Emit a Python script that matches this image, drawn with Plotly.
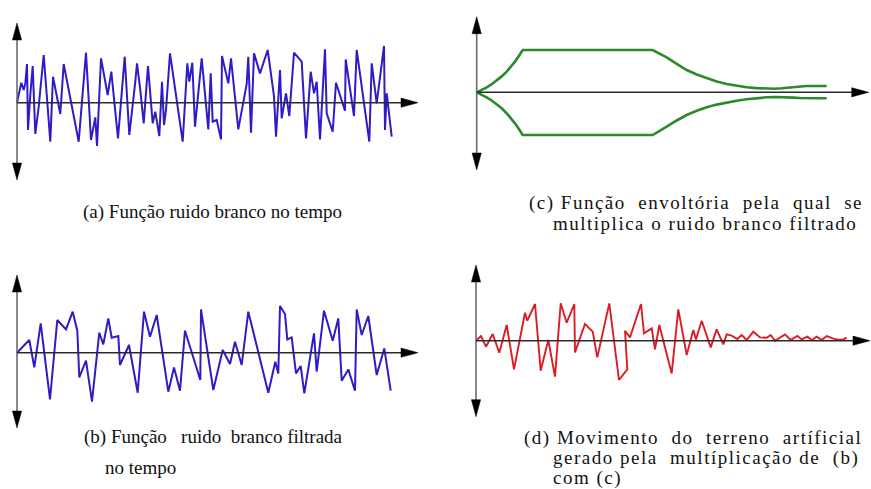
import plotly.graph_objects as go

W, H = 871, 489

# (a) white noise in time
a_t = [0, 4.3, 6.7, 8.3, 10, 11, 13.3, 15.7, 18.3, 21.7, 26.7, 33.3, 36, 43.3, 46.7, 61.7, 69, 74, 78.3, 80,
       84, 90.7, 94.3, 101, 107.7, 112.3, 118.3, 120, 123.3, 126.7, 131, 135.7, 138.3, 142.3, 145, 147, 149, 153,
       165.7, 170.3, 172.3, 175.3, 178, 184.7, 191.3, 193.7, 195.7, 199.7, 204, 205, 211.3, 214, 221.3, 229.7,
       231.3, 234, 237, 243, 250.7, 257, 259, 263, 264.7, 269, 272.3, 277, 284.7, 289, 293.7, 297, 299.7, 303,
       308, 309.7, 315.7, 319, 328, 328.7, 337, 339.7, 352.3, 354.7, 359.7, 367, 368, 369.7, 374.7]
a_y = [0, 20, 12.7, 19.3, 38.7, -27.3, 7.7, 36.7, -31.3, -4, 47.7, -39, 26, -11.3, 38.7, -39, 50, -37.3, -14.7,
       -43.3, 44.3, 7.7, 31, -35.7, 46, -32.3, 21, 39.3, 12.7, -20.7, 36.7, -20.7, -9, -33.3, 21, -22.3, -7.3,
       49.3, -39, 39.3, 21, 40, -24, 44.3, -26.7, 29.3, -19, -17.3, -36.7, 46.7, 19.3, 44.3, -26.7, 18.7, 46,
       -30, 49.3, 29.3, 52.7, 6.7, -34, 32.7, -15.7, 9.3, -13.3, 50, 41, -35.7, 31, 9.3, 21, -36.7, 53.3, -10.7,
       -29, 20, -8, 43.3, -13.3, 52.7, -39, 39.3, -0.7, 56.7, -27.3, 9.3, -34]

# (b) filtered white noise in time
b_t = [0, 12.3, 17.3, 23.7, 33, 40.3, 49, 55.7, 60.3, 62.3, 69, 75, 82.3, 86.3, 91.3, 94.7, 101.3, 103, 112,
       120.7, 127, 133, 139.7, 151.3, 157, 163, 168, 183.3, 184, 196.3, 205.7, 213, 218, 224.7, 231.3, 251.3,
       258.3, 261.3, 263, 268, 270.3, 274.7, 279, 283.7, 287.3, 297, 299.7, 307, 315.7, 321.3, 324.7, 331.3,
       338, 339.7, 344.7, 351.3, 359.7, 367.3, 373.7]
b_y = [0, 12.7, -14.7, 29.3, -46.7, 32.7, 23.3, 41, 22, -24.7, -8, -49, 20, 8.3, 34.3, 15, 16.7, -12.3, 7.7,
       -40, 41, 16, 37.7, -39, -14.7, -38, 22, -27.3, 43.3, -37.3, 2.7, -11.3, 11, -12.3, 41, -40, -9, -20.7,
       46.7, 38.7, 13.3, 15.3, -20.7, -13.3, -40.7, 19.3, -19, 42, 12, 34.3, -28, -16.7, -38, 43.3, 17.7, 36.7,
       -22.3, 4.3, -38]

# (c) envelope function (upper and lower branches)
c_t_up = [0, 5, 10, 15, 20, 25, 30, 34, 38.3, 42, 46, 176, 183, 190, 200, 210, 220, 230, 240, 250, 260, 270,
          280, 290, 298, 305, 311, 316.7, 323, 330, 340, 350]
c_y_up = [0, 2.4, 5, 8.1, 11.7, 15.9, 20.7, 25.2, 30.7, 36, 42.3, 42.3, 39, 35, 28.5, 22.3, 17.8, 14, 10.9, 8.3,
          6.4, 5, 4.2, 3.7, 3.6, 4, 4.6, 5.3, 5.9, 6.3, 6.3, 6.3]
c_t_lo = [0, 5, 10, 15, 20, 25, 30, 34, 38.3, 42, 46, 176, 183, 190, 200, 210, 220, 230, 240, 250, 260, 270,
          280, 290, 298, 306.7, 311, 316.7, 323, 330, 340, 350]
c_y_lo = [0, -2.4, -5, -8.2, -11.7, -16, -21, -25.6, -31, -36.4, -42.7, -42.7, -38.8, -34.3, -28.2, -22.7, -18.5,
          -15, -12.3, -10, -8.4, -7, -5.9, -5, -4.7, -4.7, -5, -5.3, -5.7, -6, -6, -6]

# (d) artificial ground motion
d_t = [0, 5, 10, 16.7, 23.3, 30.7, 38, 49, 51.3, 59, 64.7, 72.3, 79, 84.7, 90.7, 98.3, 99, 109, 116.7, 121.3,
       133.3, 143, 151.3, 149, 154, 165, 168, 175.7, 179, 183.3, 195.7, 202.3, 210.7, 217.3, 220, 225.7, 234.7,
       240.7, 247.3, 250.7, 255.7, 261.3, 265.7, 270.7, 277.3, 284, 290.7, 294.7, 299, 309, 314.7, 321.3, 325.7,
       331.3, 335.7, 340.7, 345.7, 350.7, 357.3, 363.3, 367.3, 370.7]
d_y = [0, 4.7, -6, 6.7, -12, 15.7, -28.7, 28, 20, 36.7, -30, 0.7, -36, 37.3, 18, 36.7, -11.7, 16.7, 9, -16.7,
       37.3, -39.3, -28.7, 10, 3.3, 36.7, 7.3, 12.3, -8.7, 15.7, -32.7, 31.3, -14.3, 10.7, 1.3, 20, -6.7, 11.3,
       -3.7, 6.3, 5, 1.7, 5.7, 0.7, 9, 3.3, 3, 5.7, 0, 6.3, 0.7, 4.7, 1.3, 4, 0.7, 4, 0.7, 4.7, 2, 0.7, 1.3, 3]

BLUE = "#2f1cc6"
GREEN = "#2b8a2b"
RED = "#dc1c24"

# panel frames in page pixels: origin of the drawn axes, box (left, right, top, bottom),
# and the arrow tips measured from the origin
panels = [
    dict(key="", origin=(17, 102.7), box=(0, 430, 10, 190), up=79.7, down=-77.3, right=401),
    dict(key="2", origin=(17, 352.7), box=(0, 430, 262, 440), up=77.7, down=-75.3, right=401),
    dict(key="3", origin=(476.7, 92.3), box=(450, 871, 5, 180), up=75.6, down=-77.7, right=392),
    dict(key="4", origin=(476, 340.7), box=(450, 871, 255, 425), up=75.7, down=-76, right=394),
]

fig = go.Figure()

series = [
    [(a_t, a_y, BLUE, 2.0)],
    [(b_t, b_y, BLUE, 2.0)],
    [(c_t_up, c_y_up, GREEN, 2.6), (c_t_lo, c_y_lo, GREEN, 2.6)],
    [(d_t, d_y, RED, 1.9)],
]

AX_V = "#6b6b6b"
AX_H = "#2a2a2a"
HEAD_L, HEAD_W = 17, 4.6

shapes = []
for p, tr in zip(panels, series):
    k = p["key"]
    xa, ya = "x" + k, "y" + k
    ox, oy = p["origin"]
    x0, x1, y0, y1 = p["box"]
    fig.update_layout({
        "xaxis" + k: dict(domain=[x0 / W, x1 / W], range=[x0 - ox, x1 - ox], visible=False, fixedrange=True),
        "yaxis" + k: dict(domain=[1 - y1 / H, 1 - y0 / H], range=[oy - y1, oy - y0], visible=False,
                          fixedrange=True),
    })
    for t, y, col, lw in tr:
        fig.add_trace(go.Scatter(x=t, y=y, mode="lines", xaxis=xa, yaxis=ya,
                                 line=dict(color=col, width=lw), hoverinfo="skip", showlegend=False))
    up, dn, rt = p["up"], p["down"], p["right"]
    # axis lines
    shapes.append(dict(type="line", xref=xa, yref=ya, x0=0, x1=0, y0=dn + HEAD_L - 1, y1=up - HEAD_L + 1,
                       line=dict(color=AX_V, width=1.6)))
    shapes.append(dict(type="line", xref=xa, yref=ya, x0=0, x1=rt - HEAD_L + 1, y0=0, y1=0,
                       line=dict(color=AX_H, width=1.5)))
    # arrowheads
    heads = [
        f"M {-HEAD_W},{up - HEAD_L} L {HEAD_W},{up - HEAD_L} L 0,{up} Z",
        f"M {-HEAD_W},{dn + HEAD_L} L {HEAD_W},{dn + HEAD_L} L 0,{dn} Z",
        f"M {rt - HEAD_L},{-HEAD_W} L {rt - HEAD_L},{HEAD_W} L {rt},0 Z",
    ]
    for h in heads:
        shapes.append(dict(type="path", xref=xa, yref=ya, path=h, fillcolor="#000000",
                           line=dict(color="#000000", width=0.5)))

FAMILY = "Liberation Serif, Times New Roman, serif"
NB = "\u00a0"


def cap(text, x, y):
    return dict(text=text, x=x / W, y=1 - y / H, xref="paper", yref="paper", xanchor="left",
                yanchor="middle", showarrow=False, align="left",
                font=dict(family=FAMILY, size=19, color="#111111"))


# left-column captions first, then the wider-set right-column captions
annotations = [
    cap("(a) Função ruido branco no tempo", 81, 212),
    cap(f"(b) Função{NB}{NB}{NB}ruido{NB}{NB}branco filtrada", 82, 437),
    cap("no tempo", 103, 467),
    cap(f"(c) Função{NB}{NB}envoltória{NB}{NB}pela{NB}{NB}qual{NB}{NB}se", 527, 203),
    cap("multiplica o ruido branco filtrado", 551, 223),
    cap(f"(d) Movimento{NB}{NB}do{NB}{NB}terreno{NB}{NB}artíficial", 522, 438),
    cap(f"gerado pela{NB}{NB}multíplicação de{NB}{NB}(b)", 551, 458),
    cap("com (c)", 551, 478),
]
WIDE = [3, 4, 5, 6, 7]

fig.update_layout(
    width=W, height=H,
    margin=dict(l=0, r=0, t=0, b=0),
    paper_bgcolor="white", plot_bgcolor="rgba(0,0,0,0)",
    shapes=shapes, annotations=annotations,
    hovermode=False, showlegend=False,
)

# the right-column captions are set with looser tracking
post = (
    "var wide = " + str(WIDE) + ";"
    "wide.forEach(function(i){"
    "  document.querySelectorAll('g.annotation[data-index=\"' + i + '\"] text').forEach(function(t){"
    "    t.style.letterSpacing = '1.5px';"
    "  });"
    "});"
)

fig.write_html("out.html", config={"displayModeBar": False, "staticPlot": True}, post_script=post)
